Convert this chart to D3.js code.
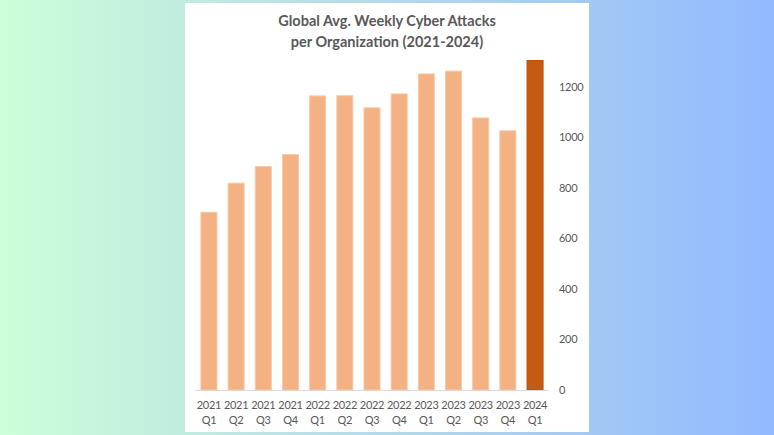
<!DOCTYPE html>
<html><head><meta charset="utf-8">
<script src="https://cdn.jsdelivr.net/npm/d3@7"></script>
<style>
html,body{margin:0;padding:0;}
body{width:774px;height:435px;overflow:hidden;background:linear-gradient(to right,#ccffd8 0%,#c0ece0 24%,#a2c9f4 76%,#93b9ff 100%);}
svg{display:block;}
</style></head><body>
<svg id="c" width="774" height="435"></svg>
<script>
const years = ["2021","2021","2021","2021","2022","2022","2022","2022","2023","2023","2023","2023","2024"];
const quarters = ["Q1","Q2","Q3","Q4","Q1","Q2","Q3","Q4","Q1","Q2","Q3","Q4","Q1"];
const attacks = [703,818,884,931,1163,1164,1116,1171,1250,1261,1076,1025,1303];
const yTicks = [0,200,400,600,800,1000,1200];
const titleLines = ["Global Avg. Weekly Cyber Attacks","per Organization (2021-2024)"];

const svg = d3.select("#c");
const font = "Lato, 'Open Sans', sans-serif";
svg.append("rect").attr("x",185).attr("y",3).attr("width",404).attr("height",429).attr("fill","#ffffff");

const cats = years.map((y,i)=>i);
const x = d3.scaleBand().domain(cats).range([195.5,548.5]).paddingInner(0.41).paddingOuter(0.2);
const y = d3.scaleLinear().domain([0,1400]).range([390,36]);

svg.append("g").selectAll("text").data(titleLines).join("text")
  .attr("x",387).attr("y",(d,i)=>26+i*20.5).attr("text-anchor","middle")
  .attr("font-family",font).attr("font-weight","bold").attr("font-size",14.5).attr("fill","#595959").text(d=>d);

svg.append("g").selectAll("rect").data(attacks).join("rect")
  .attr("x",(d,i)=>x(i)).attr("width",x.bandwidth())
  .attr("y",d=>y(d)).attr("height",d=>y(0)-y(d))
  .attr("fill",(d,i)=>i===attacks.length-1?"#c55a11":"#f4b183")
  .attr("stroke",(d,i)=>i===attacks.length-1?"#b9520e":"#f8c9a6").attr("stroke-width",1);

svg.append("line").attr("x1",195.5).attr("x2",548.5).attr("y1",y(0)+0.5).attr("y2",y(0)+0.5).attr("stroke","#d9d9d9").attr("stroke-width",1);

const ya = svg.append("g").attr("transform","translate(559,0)")
  .call(d3.axisRight(y).tickValues(yTicks).tickFormat(d3.format("d")).tickSize(0).tickPadding(0));
ya.select(".domain").remove();
ya.selectAll("text").attr("font-family",font).attr("font-size",11).attr("letter-spacing","-0.3").attr("fill","#595959");

const xa = svg.append("g");
xa.selectAll("text.yr").data(years).join("text").attr("class","yr")
  .attr("x",(d,i)=>x(i)+x.bandwidth()/2).attr("y",409).attr("text-anchor","middle")
  .attr("font-family",font).attr("font-size",11).attr("letter-spacing","-0.3").attr("fill","#595959").text(d=>d);
xa.selectAll("text.q").data(quarters).join("text").attr("class","q")
  .attr("x",(d,i)=>x(i)+x.bandwidth()/2).attr("y",424).attr("text-anchor","middle")
  .attr("font-family",font).attr("font-size",11).attr("letter-spacing","-0.3").attr("fill","#595959").text(d=>d);
</script></body></html>
